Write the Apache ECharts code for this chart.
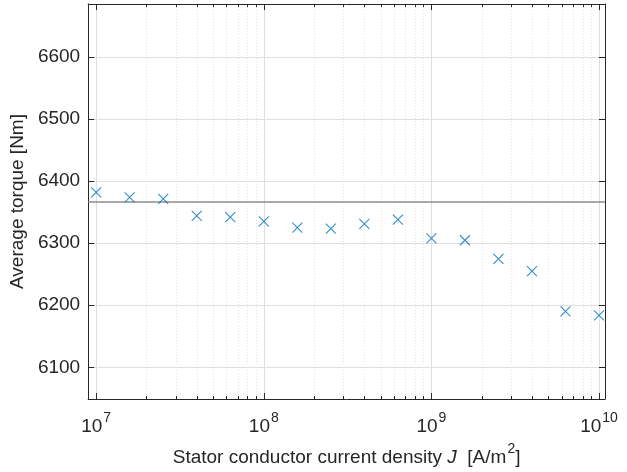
<!DOCTYPE html>
<html><head><meta charset="utf-8">
<script src="https://cdn.jsdelivr.net/npm/echarts@6/dist/echarts.min.js"></script>
<style>html,body{margin:0;padding:0;background:#fff}#c{width:627px;height:472px}</style>
</head><body><div id="c"></div>
<script>
// Data
const currentDensity = [1e7, 1.585e7, 2.512e7, 3.981e7, 6.310e7, 1e8, 1.585e8, 2.512e8, 3.981e8, 6.310e8, 1e9, 1.585e9, 2.512e9, 3.981e9, 6.310e9, 1e10];
const avgTorque = [6381.6, 6373.6, 6371.3, 6344.0, 6342.0, 6335.0, 6325.0, 6323.3, 6330.8, 6337.7, 6307.8, 6304.6, 6274.7, 6254.9, 6190.2, 6183.8];
const referenceTorque = 6366.5;
const xMajorTicks = [1e7, 1e8, 1e9, 1e10];
const xMinorTicks = [2e7,3e7,4e7,5e7,6e7,7e7,8e7,9e7, 2e8,3e8,4e8,5e8,6e8,7e8,8e8,9e8, 2e9,3e9,4e9,5e9,6e9,7e9,8e9,9e9];
const yTicks = [6100, 6200, 6300, 6400, 6500, 6600];

const X_MIN = Math.pow(10, 6.9524), X_MAX = Math.pow(10, 10.0357);
const Y_MIN = 6049, Y_MAX = 6685;
const axisColor = '#262626';
const FONT = 'Liberation Sans, Arial, sans-serif';
const FS = 19;

function xAx(opts) {
  return Object.assign({
    type: 'log', logBase: 10, min: X_MIN, max: X_MAX, gridIndex: 0,
    axisLine: {show: false}, axisLabel: {show: false}, splitLine: {show: false},
    axisTick: {show: false}
  }, opts);
}

const chart = echarts.init(document.getElementById('c'));
chart.setOption({
  animation: false,
  backgroundColor: '#fff',
  grid: {left: 87, right: 22, top: 4, bottom: 71, containLabel: false},
  xAxis: [
    xAx({position: 'bottom',
      axisLine: {show: true, onZero: false, lineStyle: {color: axisColor, width: 1}},
      axisTick: {show: true, inside: true, length: 6, customValues: xMajorTicks, lineStyle: {color: axisColor}},
      splitLine: {show: true, lineStyle: {color: '#dfdfdf', width: 1}},
      axisLabel: {show: true, customValues: xMajorTicks, margin: 10, color: axisColor, fontFamily: FONT,
        formatter: function (v) { return '{b|10}{s|' + Math.round(Math.log10(v)) + '}'; },
        rich: {b: {fontSize: FS, fontFamily: FONT, color: axisColor, padding: [8, 0, 0, 0]},
               s: {fontSize: 14, fontFamily: FONT, color: axisColor, padding: [0, 0, 8, 1]}}},
      name: '{n|Stator conductor current density }{i|J}{n|  [A/m}{s|2}{n|]}',
      nameLocation: 'middle', nameGap: 41,
      nameTextStyle: {rich: {
        n: {fontSize: FS, fontFamily: FONT, color: axisColor, padding: [8, 0, 0, 0]},
        i: {fontSize: FS, fontFamily: FONT, fontStyle: 'italic', color: axisColor, padding: [8, 0, 0, 0]},
        s: {fontSize: 14, fontFamily: FONT, color: axisColor, padding: [0, 0, 8, 1]}}}
    }),
    xAx({position: 'bottom',
      axisTick: {show: true, inside: true, length: 3, customValues: xMinorTicks, lineStyle: {color: axisColor}},
      splitLine: {show: true, lineStyle: {color: '#e3e3e3', width: 1, type: [1, 2]}}
    }),
    xAx({position: 'top',
      axisLine: {show: true, onZero: false, lineStyle: {color: axisColor, width: 1}},
      axisTick: {show: true, inside: true, length: 6, customValues: xMajorTicks, lineStyle: {color: axisColor}}
    }),
    xAx({position: 'top',
      axisTick: {show: true, inside: true, length: 3, customValues: xMinorTicks, lineStyle: {color: axisColor}}
    })
  ],
  yAxis: [
    {type: 'value', min: Y_MIN, max: Y_MAX, position: 'left',
      axisLine: {show: true, onZero: false, lineStyle: {color: axisColor, width: 1}},
      axisTick: {show: true, inside: true, length: 6, customValues: yTicks, lineStyle: {color: axisColor}},
      splitLine: {show: true, lineStyle: {color: '#dfdfdf', width: 1}},
      axisLabel: {customValues: yTicks, margin: 8, color: axisColor, fontSize: FS, fontFamily: FONT,
        formatter: function (v) { return String(v); }},
      name: 'Average torque [Nm]', nameLocation: 'middle', nameGap: 56,
      nameTextStyle: {fontSize: FS, fontFamily: FONT, color: axisColor}
    },
    {type: 'value', min: Y_MIN, max: Y_MAX, position: 'right',
      axisLine: {show: true, onZero: false, lineStyle: {color: axisColor, width: 1}},
      axisTick: {show: true, inside: true, length: 6, customValues: yTicks, lineStyle: {color: axisColor}},
      splitLine: {show: false}, axisLabel: {show: false}
    }
  ],
  series: [{
    type: 'scatter', xAxisIndex: 0, yAxisIndex: 0,
    data: currentDensity.map((x, i) => [x, avgTorque[i]]),
    symbol: 'path://M0,0L10,10M10,0L0,10', symbolSize: 10,
    itemStyle: {color: 'rgba(0,0,0,0)', borderColor: '#0072BD', borderWidth: 1.1},
    markLine: {
      silent: true, symbol: 'none', animation: false,
      label: {show: false},
      lineStyle: {color: '#8c8c8c', width: 1.5, type: 'solid'},
      data: [{yAxis: referenceTorque}]
    },
    z: 5
  }]
});
</script></body></html>
